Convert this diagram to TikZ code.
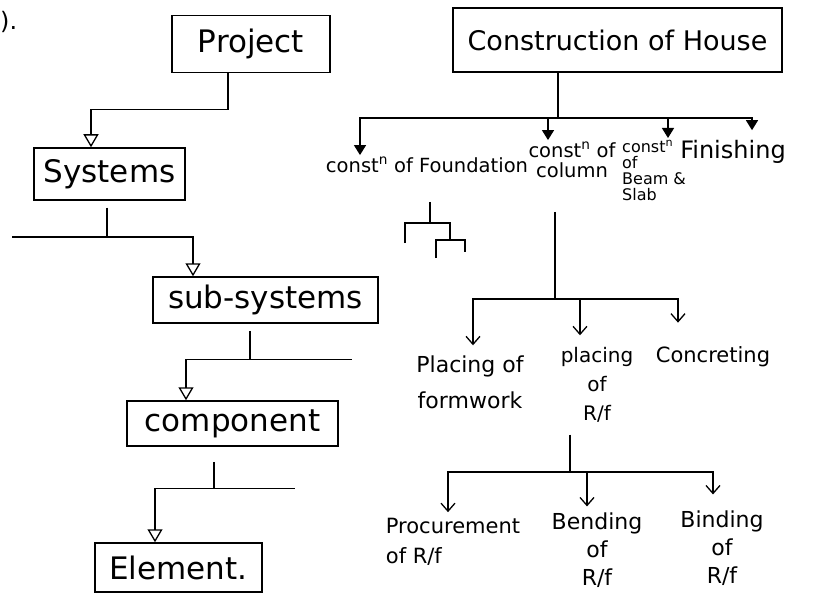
\documentclass[tikz,border=0pt]{standalone}
\usepackage{amsmath,amssymb}
\usepackage{fontspec}
\setmainfont{DejaVu Sans}
\usepackage{xcolor}
\usepackage{tikz}
\usetikzlibrary{arrows.meta,positioning}

\begin{document}
\begin{tikzpicture}[x=1pt, y=-1pt,
  stage/.style={draw, line width=1.5pt, inner sep=0pt, font=\fontsize{31}{34}\selectfont},
  task/.style={inner sep=2pt, align=center, font=\fontsize{21}{28}\selectfont},
  link/.style={line width=1.3pt},
  openarrow/.style={link, -{Triangle[open, length=13pt, width=15pt]}},
  fillarrow/.style={link, -{Triangle[length=10pt, width=12pt]}},
  barbarrow/.style={link, -{Straight Barb[length=8pt, width=14pt]}},
]
\useasboundingbox (0,0) rectangle (828,599);

\node[anchor=west, inner sep=0pt, font=\fontsize{24}{28}\selectfont] (qno) at (0,22) {).};

% left: hierarchy of a project
\node[stage, minimum width=158pt, minimum height=57pt] (proj) at (251,44) {Project};
\node[stage, minimum width=151pt, minimum height=52pt] (sys) at (109.5,174) {Systems};
\node[stage, minimum width=225pt, minimum height=46pt] (subs) at (265.5,300) {sub-systems};
\node[stage, minimum width=211pt, minimum height=45pt] (comp) at (232.5,423.5) {component};
\node[stage, minimum width=167pt, minimum height=49pt] (elem) at (178.5,567.5) {Element.};

\draw[openarrow] ([xshift=-23pt]proj.south) -- ++(0,36) -| ([xshift=-18.5pt]sys.north);

\draw[link, shorten <=7pt] ([xshift=-2.5pt]sys.south) -- ++(0,37) coordinate (sj);
\coordinate (sysbar) at (12,237);
\draw[openarrow] (sysbar) -| ([xshift=-72.5pt]subs.north);
\draw[link, line width=2.4pt] (sysbar) -- ++(55,0);

\draw[link, shorten <=7pt] ([xshift=-15.5pt]subs.south) -- ++(0,36) coordinate (ssj);
\draw[link] (ssj) -- ++(102,0);
\draw[openarrow] (ssj) -| ([xshift=-46.5pt]comp.north);

\draw[link, shorten <=15pt] ([xshift=-18.5pt]comp.south) -- ++(0,42) coordinate (cpj);
\draw[link] (cpj) -- ++(81,0);
\draw[openarrow] (cpj) -| ([xshift=-23.5pt]elem.north);

% right: construction of a house
\node[stage, font=\fontsize{27}{30}\selectfont, minimum width=329pt, minimum height=64pt] (house) at (617.5,40) {Construction of House};

\node[task, font=\fontsize{19.5}{22}\selectfont] (fnd) at (427,165) {const\textsuperscript{n} of Foundation};
\node[task, font=\fontsize{19.5}{20}\selectfont] (col) at (572,160) {const\textsuperscript{n} of\\column};
\node[task, align=left, font=\fontsize{16}{16}\selectfont, anchor=north west] (beam) at (620,138) {const\textsuperscript{n}\\of\\Beam \&\\Slab};
\node[task, font=\fontsize{24}{26}\selectfont] (fin) at (733,152) {Finishing};

\coordinate (hj) at (558,118);
\draw[link] ([xshift=-59.5pt]house.south) -- (hj);
\draw[fillarrow] (hj) -| ([xshift=-67pt]fnd.north);
\draw[fillarrow] (hj) -| ([xshift=-24pt]col.north);
\draw[fillarrow] (hj) -| ([xshift=48pt]beam.north west);
\draw[fillarrow, shorten >=8pt] (hj) -| ([xshift=19pt]fin.north);

% foundation sketch
\draw[link] (430,202) -- (430,223);
\draw[link] (405,243) |- (450,223) -- (450,239);
\draw[link] (436,258) |- (465,240) -- (465,252);

\node[task, font=\fontsize{22}{36}\selectfont] (pf) at (470,382) {Placing of\\formwork};
\node[task, font=\fontsize{20}{29}\selectfont] (prf) at (597,385) {placing\\of\\R/f};
\node[task] (conc) at (713,357) {Concreting};

\coordinate (cj) at (555,299);
\draw[link, shorten <=32pt] (col.south -| cj) -- (cj);
\draw[barbarrow, shorten >=8pt] (cj) -| ([xshift=3pt]pf.north);
\draw[barbarrow, shorten >=10pt] (cj) -| ([xshift=-17pt]prf.north);
\draw[barbarrow, shorten >=22pt] (cj) -| ([xshift=-35pt]conc.north);

\node[task, align=left, font=\fontsize{21}{30}\selectfont] (proc) at (453,542) {Procurement\\of R/f};
\node[task, font=\fontsize{22}{28}\selectfont] (bend) at (597,550) {Bending\\of\\R/f};
\node[task, font=\fontsize{22}{28}\selectfont] (bind) at (722,548) {Binding\\of\\R/f};

\coordinate (rj) at (570,472);
\draw[link, shorten <=10pt] (prf.south -| rj) -- (rj);
\draw[barbarrow, shorten >=4pt] (rj) -| ([xshift=-5pt]proc.north);
\draw[barbarrow, shorten >=4pt] (rj) -| ([xshift=-10pt]bend.north);
\draw[barbarrow, shorten >=14pt] (rj) -| ([xshift=-9pt]bind.north);

\end{tikzpicture}
\end{document}
